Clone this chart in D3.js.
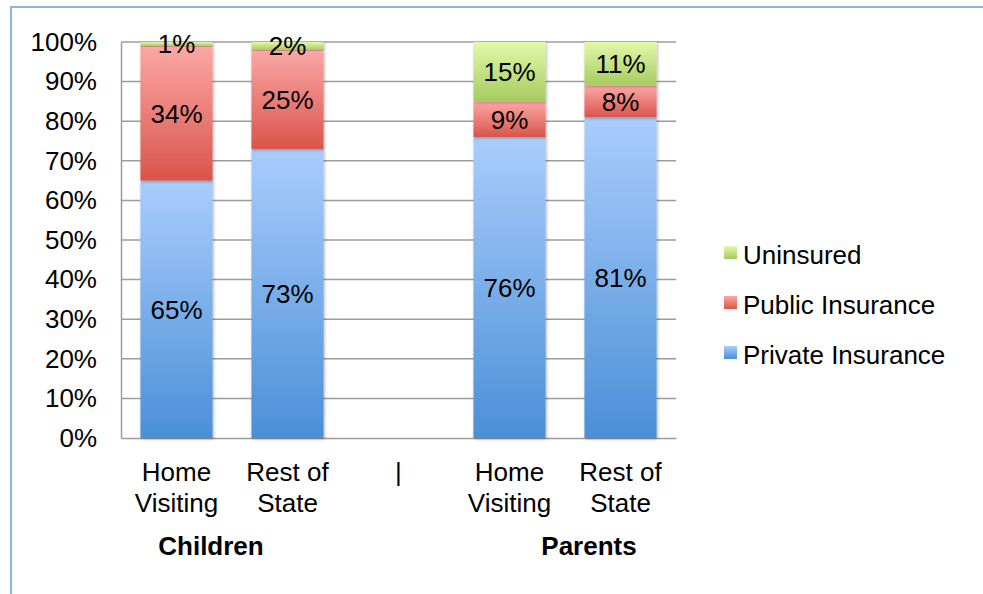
<!DOCTYPE html>
<html>
<head>
<meta charset="utf-8">
<script src="https://cdn.jsdelivr.net/npm/d3@7"></script>
<style>
body { margin: 0; background: #fff; }
text { font-family: "Liberation Sans", Arial, sans-serif; }
</style>
</head>
<body>
<div id="chart"></div>
<script>
// data
var categories = ["c_hv", "c_rs", "sep", "p_hv", "p_rs"];
var catLines = [["Home", "Visiting"], ["Rest of", "State"], ["|"], ["Home", "Visiting"], ["Rest of", "State"]];
var seriesNames = ["Private Insurance", "Public Insurance", "Uninsured"];
var privateIns = [65, 73, null, 76, 81];
var publicIns = [34, 25, null, 9, 8];
var uninsured = [1, 2, null, 15, 11];
var groupLabels = ["Children", "Parents"];
var yTicks = [0, 10, 20, 30, 40, 50, 60, 70, 80, 90, 100];

var W = 983, H = 594;
var margin = {top: 42, left: 121},
    width = 555, height = 396;
var fs = 26;

var svg = d3.select("#chart").append("svg")
    .attr("width", W).attr("height", H);

// chart border
svg.append("rect")
    .attr("x", 11).attr("y", 7)
    .attr("width", 1000).attr("height", 700)
    .attr("fill", "none").attr("stroke", "#8eb4e3").attr("stroke-width", 2);

var defs = svg.append("defs");
var grads = [["blue", "#a9cdfb", "#4b8fd8"], ["red", "#fba8a5", "#d9544c"], ["green", "#e3f8ab", "#a6cb60"]];
grads.forEach(function(g) {
  var lg = defs.append("linearGradient").attr("id", "g_" + g[0])
      .attr("x1", 0).attr("y1", 0).attr("x2", 0).attr("y2", 1);
  lg.append("stop").attr("offset", "0%").attr("stop-color", g[1]);
  lg.append("stop").attr("offset", "100%").attr("stop-color", g[2]);
});
var shadow = defs.append("filter").attr("id", "sh")
    .attr("x", "-20%").attr("y", "-5%").attr("width", "140%").attr("height", "115%");
shadow.append("feDropShadow").attr("dx", 1).attr("dy", 1).attr("stdDeviation", 1.5)
    .attr("flood-color", "#000").attr("flood-opacity", 0.3);

var g = svg.append("g").attr("transform", "translate(" + margin.left + "," + margin.top + ")");

var x = d3.scaleBand().domain(categories).range([0, width]).paddingInner(0.35).paddingOuter(0.175);
var y = d3.scaleLinear().domain([0, 100]).range([height, 0]);

// gridlines
g.selectAll("line.grid").data(yTicks.slice(1)).enter().append("line")
    .attr("x1", 0).attr("x2", width)
    .attr("y1", function(d) { return y(d); }).attr("y2", function(d) { return y(d); })
    .attr("stroke", "#9c9c9c").attr("stroke-width", 1.5);

// y axis
var yAxis = g.append("g")
    .call(d3.axisLeft(y).tickValues(yTicks).tickSize(0).tickPadding(24).tickFormat(function(d) { return d + "%"; }));
yAxis.select(".domain").attr("stroke", "#9c9c9c").attr("stroke-width", 1.5);
yAxis.selectAll("text").attr("fill", "#000")
    .style("font-size", fs + "px")
    .style("font-family", "Liberation Sans, Arial, sans-serif");

// x axis
var xAxis = g.append("g").attr("transform", "translate(0," + height + ")")
    .call(d3.axisBottom(x).tickSize(0).tickFormat(""));
xAxis.select(".domain").attr("stroke", "#9c9c9c").attr("stroke-width", 1.5);

// stacked bars
var rows = categories.map(function(c, i) {
  return {cat: c, private: privateIns[i], public: publicIns[i], uninsured: uninsured[i]};
}).filter(function(d) { return d.private != null; });
var stack = d3.stack().keys(["private", "public", "uninsured"]);
var layers = stack(rows);
var fills = ["url(#g_blue)", "url(#g_red)", "url(#g_green)"];

layers.forEach(function(layer, li) {
  var lg = g.append("g");
  lg.selectAll("rect").data(layer).enter().append("rect")
    .attr("x", function(d) { return x(d.data.cat); })
    .attr("width", x.bandwidth())
    .attr("y", function(d) { return y(Math.min(d[1], 100)); })
    .attr("height", function(d) { return y(d[0]) - y(Math.min(d[1], 100)); })
    .attr("fill", fills[li])
    .attr("filter", "url(#sh)");
});

// labels
layers.forEach(function(layer) {
  g.selectAll(null).data(layer).enter().append("text")
    .attr("x", function(d) { return x(d.data.cat) + x.bandwidth() / 2; })
    .attr("y", function(d) { return (y(d[0]) + y(Math.min(d[1], 100))) / 2; })
    .attr("dy", "0.36em")
    .attr("text-anchor", "middle")
    .style("font-size", fs + "px")
    .text(function(d) { return (d[1] - d[0]) + "%"; });
});

// category labels
categories.forEach(function(c, i) {
  var t = g.append("text")
      .attr("x", x(c) + x.bandwidth() / 2)
      .attr("y", height + 43)
      .attr("text-anchor", "middle")
      .style("font-size", fs + "px");
  catLines[i].forEach(function(l, j) {
    t.append("tspan").attr("x", x(c) + x.bandwidth() / 2).attr("dy", j == 0 ? 0 : 31).text(l);
  });
});

// group labels
g.append("text").attr("x", (x("c_hv") + x("c_rs") + x.bandwidth()) / 2 - 21)
    .attr("y", height + 117).attr("text-anchor", "middle")
    .style("font-size", fs + "px").attr("font-weight", "bold").text(groupLabels[0]);
g.append("text").attr("x", (x("p_hv") + x("p_rs") + x.bandwidth()) / 2 + 24)
    .attr("y", height + 117).attr("text-anchor", "middle")
    .style("font-size", fs + "px").attr("font-weight", "bold").text(groupLabels[1]);

// legend
var legendItems = [[seriesNames[2], "url(#g_green)"], [seriesNames[1], "url(#g_red)"], [seriesNames[0], "url(#g_blue)"]];
var legend = svg.append("g").attr("transform", "translate(724,246)");
legendItems.forEach(function(d, i) {
  legend.append("rect").attr("x", 0).attr("y", i * 50).attr("width", 13).attr("height", 13).attr("fill", d[1]);
  legend.append("text").attr("x", 19).attr("y", i * 50 + 9).attr("dy", "0.36em")
      .style("font-size", fs + "px").text(d[0]);
});
</script>
</body>
</html>
